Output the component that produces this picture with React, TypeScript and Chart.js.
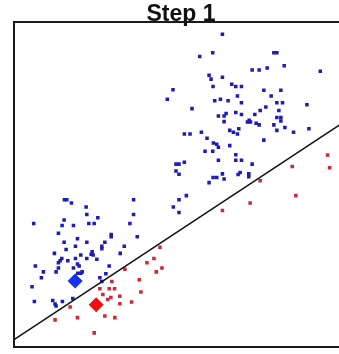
import { useEffect, useRef } from "react";
import { Chart, registerables } from "chart.js";

Chart.register(...registerables);

const chartTitle = "Step 1";

// Class A samples (blue), feature pairs [x, y]
const bluePoints: [number, number][] = [
  [6.24, 9.62], [5.56, 8.94], [5.95, 9.05], [7.78, 9.05], [7.87, 9.05],
  [8.09, 8.65], [7.58, 8.58], [7.13, 8.52], [7.34, 8.52], [9.17, 8.48],
  [5.84, 8.36], [5.9, 8.24], [6.24, 8.3], [4.76, 7.91], [4.59, 7.62],
  [5.96, 8.01], [6.52, 8.08], [6.64, 8.01], [6.81, 8.01], [7.48, 7.9],
  [7.99, 7.9], [6.69, 7.72], [7.7, 7.72], [6.01, 7.57], [6.18, 7.62],
  [6.41, 7.57], [6.81, 7.51], [7.87, 7.51], [8.04, 7.51], [8.77, 7.45],
  [5.33, 7.33], [7.93, 7.27], [7.54, 7.38], [7.37, 7.27], [7.21, 7.15],
  [6.12, 7.1], [6.29, 7.1], [6.35, 7.18], [6.64, 7.21], [6.81, 7.15],
  [7.87, 7.06], [7.99, 7.06], [6.29, 6.93], [7.04, 6.97], [6.99, 6.92],
  [7.08, 6.92], [7.25, 6.88], [7.34, 6.83], [7.99, 6.95], [7.78, 6.83],
  [8.11, 6.75], [7.87, 6.66], [8.37, 6.6], [8.83, 6.71], [6.46, 6.66],
  [6.57, 6.6], [6.69, 6.55], [6.73, 6.71], [5.1, 6.55], [5.27, 6.55],
  [5.61, 6.6], [5.78, 6.42], [5.97, 6.27], [6.07, 6.23], [6.12, 6.14],
  [7.48, 6.36], [6.46, 6.19], [5.72, 6.02], [5.95, 6.02], [6.64, 5.91],
  [6.64, 5.74], [6.81, 5.74], [6.12, 5.74], [5.1, 5.68], [4.85, 5.62],
  [4.94, 5.62], [4.85, 5.41], [4.94, 5.31], [7.13, 5.62], [5.96, 5.21],
  [6.07, 5.21], [6.24, 5.32], [6.29, 5.16], [6.71, 5.3], [6.77, 5.36],
  [7.03, 5.32], [7.03, 5.23], [5.84, 5.05], [5.16, 4.65], [4.94, 4.52],
  [4.77, 4.3], [4.94, 4.13],
  [1.51, 4.52], [1.58, 4.52], [1.72, 4.42], [2.16, 4.3], [3.58, 4.52],
  [2.18, 4.07], [2.51, 3.97], [0.59, 3.79], [1.5, 3.9], [1.44, 3.73],
  [1.78, 3.73], [2.24, 3.79], [2.4, 3.79], [3.58, 4.07], [3.47, 3.79],
  [1.33, 3.49], [1.9, 3.32], [2.91, 3.45], [2.91, 3.38], [3.69, 3.38],
  [1.5, 3.21], [1.84, 3.09], [2.18, 3.21], [2.72, 3.21], [2.63, 3.09],
  [2.63, 3.01], [3.3, 3.09], [1.56, 2.99], [1.21, 2.87], [2.34, 2.92],
  [2.31, 2.84], [2.37, 2.82], [2.0, 2.82], [3.18, 2.87], [1.43, 2.71],
  [1.38, 2.64], [1.33, 2.58], [1.61, 2.64], [1.84, 2.71], [2.18, 2.71],
  [1.78, 2.42], [1.9, 2.54], [1.95, 2.48], [0.64, 2.48], [0.88, 2.3],
  [1.33, 2.42], [1.26, 2.3], [2.85, 2.48], [1.91, 2.26], [2.0, 2.26],
  [2.75, 2.24], [2.04, 2.3], [0.82, 2.12], [0.54, 1.84], [2.57, 2.12],
  [2.63, 2.0], [0.61, 1.39], [1.16, 1.42], [1.23, 1.31], [1.26, 1.25],
  [1.45, 1.39], [1.76, 1.48], [2.48, 2.69],
];

// Class B samples (red)
const redPoints: [number, number][] = [
  [9.39, 5.9], [9.45, 5.51], [8.33, 5.55], [7.37, 5.11], [8.44, 4.65],
  [7.07, 4.42], [6.24, 4.19], [4.37, 3.06], [4.19, 2.71], [3.98, 2.58],
  [4.43, 2.42], [4.26, 2.3], [3.32, 2.38], [3.75, 2.06], [2.93, 2.0],
  [2.85, 1.78], [3.01, 1.78], [2.57, 1.78], [3.8, 1.68], [2.66, 1.6],
  [3.17, 1.55], [2.81, 1.45], [2.9, 1.51], [3.17, 1.32], [3.52, 1.37],
  [1.68, 1.22], [2.72, 0.94], [3.02, 0.89], [1.9, 0.89], [1.23, 0.82],
  [2.4, 0.42],
];

// Class means
const blueCentre: [number, number] = [1.83, 2.02];
const redCentre: [number, number] = [2.46, 1.29];

// Separating line through two end points
const boundaryX = [0, 10];
const boundaryY = [0.21, 7.0];

const axisMin = 0;
const axisMax = 10;

const toXY = (pts: [number, number][]) => pts.map(([x, y]) => ({ x, y }));

const frameAxis = (axis: "x" | "y", position: string) => ({
  type: "linear" as const,
  axis,
  position,
  min: axisMin,
  max: axisMax,
  display: true,
  ticks: { display: false },
  grid: { display: false, drawTicks: false },
  border: { display: true, color: "#1b1b1b", width: 2 },
});

const titlePlugin = {
  id: "stepTitle",
  afterDraw(chart: Chart) {
    const { ctx, chartArea } = chart;
    ctx.save();
    ctx.font = "bold 23px 'Liberation Sans', Arial, sans-serif";
    ctx.fillStyle = "#111111";
    ctx.textAlign = "center";
    ctx.textBaseline = "alphabetic";
    ctx.fillText(chartTitle, (chartArea.left + chartArea.right) / 2, chartArea.top - 1);
    ctx.restore();
  },
};

export default function App() {
  const canvasRef = useRef<HTMLCanvasElement | null>(null);

  useEffect(() => {
    if (!canvasRef.current) return;
    const chart = new Chart(canvasRef.current, {
      type: "scatter",
      data: {
        datasets: [
          {
            label: "Class A mean",
            data: toXY([blueCentre]),
            pointStyle: "rectRot",
            pointRadius: 7.5,
            backgroundColor: "#1530f0",
            borderWidth: 0,
            order: 0,
          },
          {
            label: "Class B mean",
            data: toXY([redCentre]),
            pointStyle: "rectRot",
            pointRadius: 7.5,
            backgroundColor: "#f01010",
            borderWidth: 0,
            order: 0,
          },
          {
            label: "Boundary",
            data: boundaryX.map((x, i) => ({ x, y: boundaryY[i] })),
            showLine: true,
            borderColor: "#101010",
            borderWidth: 1.6,
            pointRadius: 0,
            order: 1,
          },
          {
            label: "Class A",
            data: toXY(bluePoints),
            pointStyle: "rect",
            pointRadius: 2.5,
            backgroundColor: "#1c1cb8",
            borderWidth: 0,
            order: 2,
          },
          {
            label: "Class B",
            data: toXY(redPoints),
            pointStyle: "rect",
            pointRadius: 2.5,
            backgroundColor: "#d22536",
            borderWidth: 0,
            order: 2,
          },
        ],
      },
      options: {
        responsive: false,
        animation: false,
        events: [],
        layout: { padding: { left: 14, top: 22, right: 14, bottom: 2 } },
        plugins: {
          legend: { display: false },
          tooltip: { enabled: false },
          title: { display: false },
        },
        scales: {
          x: frameAxis("x", "bottom"),
          y: frameAxis("y", "left"),
          xTop: frameAxis("x", "top"),
          yRight: frameAxis("y", "right"),
        } as any,
      },
      plugins: [titlePlugin],
    });
    return () => chart.destroy();
  }, []);

  return (
    <div
      style={{
        position: "fixed",
        left: 0,
        top: 0,
        width: 339,
        height: 354,
        overflow: "hidden",
        background: "#ffffff",
      }}
    >
      <canvas ref={canvasRef} width={362} height={354} style={{ display: "block" }} />
    </div>
  );
}
